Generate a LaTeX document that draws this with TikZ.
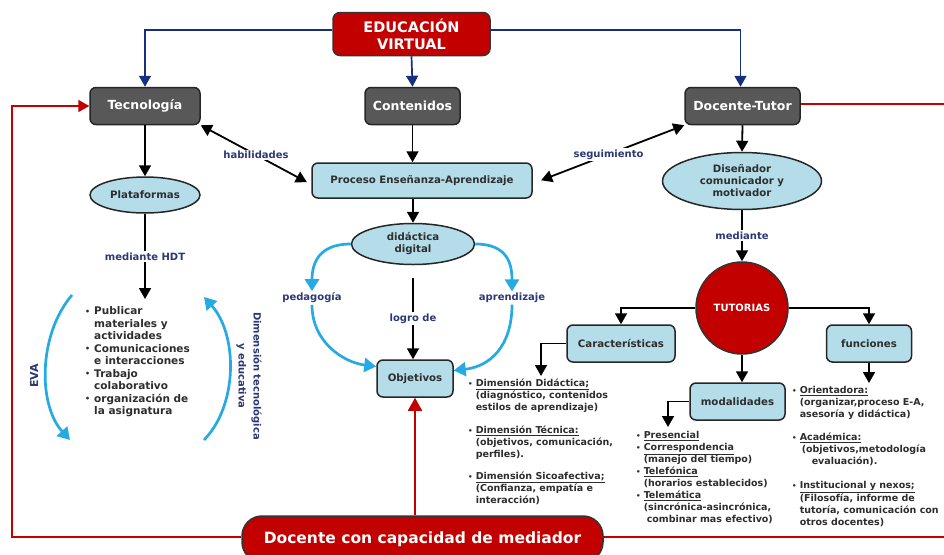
\documentclass[tikz,border=0pt]{standalone}
\usepackage{fontspec}
\setmainfont{DejaVu Sans}
\usetikzlibrary{arrows.meta,shapes.geometric}
\definecolor{navy}{RGB}{44,56,118}
\definecolor{topblue}{RGB}{22,48,125}
\definecolor{sky}{RGB}{38,170,228}
\definecolor{lblue}{RGB}{180,220,233}
\definecolor{dgray}{RGB}{88,88,88}
\definecolor{dred}{RGB}{195,0,0}
\definecolor{ltxt}{RGB}{45,45,45}
\newcommand\bul{\raisebox{0.6pt}{\scalebox{0.75}{\textbullet}}}
\begin{document}
\begin{tikzpicture}[x=1pt,y=-1pt,
  darkbox/.style={draw=black!85, fill=dgray, rounded corners=6pt, line width=1.5pt,
    text=white, font=\fontsize{12.5}{15}\selectfont\bfseries, minimum width=110pt, minimum height=37pt},
  lbox/.style={draw=black!85, fill=lblue, rounded corners=6pt, line width=1.5pt,
    text=black!82, font=\fontsize{10.2}{12}\selectfont\bfseries, minimum height=37pt, align=center},
  lell/.style={ellipse, draw=black!85, fill=lblue, line width=1.5pt, inner sep=1pt,
    text=black!82, font=\fontsize{10.2}{12}\selectfont\bfseries, align=center},
  redbox/.style={draw=black!80, fill=dred, rounded corners=7pt, line width=1.5pt,
    text=white, align=center},
  lbl/.style={fill=white, text=navy, font=\fontsize{10}{12}\selectfont\bfseries, inner sep=1.5pt},
  sidelbl/.style={text=navy, font=\fontsize{10}{15}\selectfont\bfseries, align=center},
  tip/.style={Triangle[length=11pt,width=12pt]},
  con/.style={draw=black, line width=1.8pt, -{Triangle[length=11pt,width=12pt]}},
  dcon/.style={draw=black, line width=1.8pt, {Triangle[length=11pt,width=12pt]}-{Triangle[length=11pt,width=12pt]}},
  bcon/.style={draw=topblue, line width=1.7pt, -{Triangle[length=11pt,width=12pt]}},
  rcon/.style={draw=dred, line width=1.7pt},
  skyarc/.style={draw=sky, line width=2.7pt, -{Triangle[length=12pt,width=14pt]}},
  listtxt/.style={text=ltxt, anchor=north west, inner sep=0pt, font=\fontsize{9.5}{12}\selectfont\bfseries}
]
\useasboundingbox (0,0) rectangle (944,554);
\clip (0,0) rectangle (944,554);
\fill[white] (0,0) rectangle (944,554);

% ---------- nodes ----------
\node[redbox, minimum width=157pt, minimum height=43pt, font=\fontsize{14.5}{17}\selectfont\bfseries] (ev) at (411.5,34) {EDUCACIÓN\\VIRTUAL};
\node[darkbox] (tec) at (145,106) {Tecnología};
\node[darkbox, minimum width=95pt] (con) at (412.5,106) {Contenidos};
\node[darkbox, minimum width=115pt] (doc) at (742.5,106) {Docente-Tutor};
\node[lbox, minimum width=220pt, minimum height=35pt] (pea) at (422,180.5) {Proceso Enseñanza-Aprendizaje};
\node[lell, minimum width=110pt, minimum height=36pt] (plat) at (145,195) {Plataformas};
\node[lell, minimum width=123pt, minimum height=41pt] (dd) at (413,244) {didáctica\\digital};
\node[lbox, minimum width=76pt] (obj) at (415,378.5) {Objetivos};
\node[lell, minimum width=159pt, minimum height=57pt] (dis) at (742,181) {Diseñador\\comunicador y\\motivador};
\node[circle, draw=black!80, fill=dred, line width=1.5pt, minimum size=92pt, text=white,
  font=\fontsize{10}{12}\selectfont\bfseries] (tut) at (742,308) {TUTORIAS};
\node[lbox, minimum width=108pt] (car) at (621,343.5) {Características};
\node[lbox, minimum width=85pt] (fun) at (869,343.5) {funciones};
\node[lbox, minimum width=95pt] (mod) at (737.5,401.5) {modalidades};
\node[redbox, rounded corners=20pt, minimum width=361pt, minimum height=46pt,
  font=\fontsize{15.5}{18}\selectfont\bfseries] (dcm) at (422.5,539) {Docente con capacidad de mediador};

% labels placed as nodes
\node[sidelbl, font=\fontsize{11}{13}\selectfont\bfseries, rotate=90] (eva) at (34,376) {EVA};
\node[sidelbl, rotate=-90] (dim) at (249,376) {Dimensión tecnológica\\y educativa};
\node[lbl] (ped) at (312,298) {pedagogía};
\node[lbl] (apr) at (512,298) {aprendizaje};

% ---------- lists ----------
\node[listtxt, font=\fontsize{10.5}{12.5}\selectfont\bfseries] (lst1) at (85,306) {%
\begin{tabular}{@{}l@{\hspace{4pt}}l@{}}
\bul & Publicar\\
 & materiales y\\
 & actividades\\
\bul & Comunicaciones\\
 & e interacciones\\
\bul & Trabajo\\
 & colaborativo\\
\bul & organización de\\
 & la asignatura
\end{tabular}};

\node[listtxt] (lst2) at (468,378) {%
\begin{tabular}{@{}l@{\hspace{3pt}}l@{}}
\bul & \underline{Dimensión Didáctica;}\\
 & (diagnóstico, contenidos\\
 & estilos de aprendizaje)\\[11pt]
\bul & \underline{Dimensión Técnica:}\\
 & (objetivos, comunicación,\\
 & perfiles).\\[10pt]
\bul & \underline{Dimensión Sicoafectiva;}\\
 & (Confianza, empatía e\\
 & interacción)
\end{tabular}};

\node[listtxt] (lst3) at (636,430) {%
\begin{tabular}{@{}l@{\hspace{3pt}}l@{}}
\bul & \underline{Presencial}\\
\bul & \underline{Correspondencia}\\
 & (manejo del tiempo)\\
\bul & \underline{Telefónica}\\
 & (horarios establecidos)\\
\bul & \underline{Telemática}\\
 & (sincrónica-asincrónica,\\
 & \hspace{3pt}combinar mas efectivo)
\end{tabular}};

\node[listtxt] (lst4) at (792,385) {%
\begin{tabular}{@{}l@{\hspace{3pt}}l@{}}
\bul & \underline{Orientadora:}\\
 & (organizar,proceso E-A,\\
 & asesoría y didáctica)\\[11pt]
\bul & \underline{Académica:}\\
 & \hspace{2pt}(objetivos,metodología\\
 & \hspace{12pt}evaluación).\\[12pt]
\bul & \underline{Institucional y nexos;}\\
 & (Filosofía, informe de\\
 & tutoría, comunicación con\\
 & otros docentes)
\end{tabular}};

% ---------- coordinates for free ends ----------
\coordinate (l1top) at (145,299);
\coordinate (lg1) at (413,278);
\coordinate (carend) at (541,376);
\coordinate (modend) at (668,427);
\coordinate (funend) at (869,383);
\coordinate (lc1) at (12,537);
\coordinate (re1) at (950,104);
\coordinate (re2) at (950,537);
\coordinate (evaA) at (72,295);
\coordinate (evaB) at (70,440);
\coordinate (dimA) at (204,440);
\coordinate (dimB) at (204,297);

% ---------- blue top connectors ----------
\draw[bcon] ([yshift=4pt]ev.west) -| (tec.north);
\draw[bcon] (ev.south) -- (con.north);
\draw[bcon] ([yshift=4pt]ev.east) -| ([xshift=-2pt]doc.north);

% ---------- red connectors ----------
\draw[rcon] ([yshift=2pt]doc.east) -- (re1);
\draw[rcon] ([yshift=2pt]dcm.east) -- (re2);
\draw[rcon, -{Triangle[length=11pt,width=12pt]}] ([yshift=2pt]dcm.west) -- (lc1) |- (tec.west);
\draw[rcon, -{Triangle[length=13pt,width=14pt]}] (obj.south |- dcm.north) -- (obj.south);

% ---------- black connectors ----------
\draw[con] (tec.south) -- (plat.north);
\draw[con] (plat.south) -- node[lbl]{mediante HDT} (l1top);
\draw[con] (con.south) -- (con.south |- pea.north);
\draw[con] (dd.north |- pea.south) -- (dd.north);
\draw[dcon, shorten >=5pt] (tec.south east) -- node[lbl]{habilidades} ([yshift=-4pt]pea.west);
\draw[dcon, shorten >=9pt] (doc.south west) -- node[lbl]{seguimiento} ([yshift=-3pt]pea.east);
\draw[con] (doc.south) -- (dis.north);
\draw[con] (dis.south) -- node[lbl]{mediante} (tut.north);
\draw[con] (tut.west) -| (car.north);
\draw[con] (tut.east) -| (fun.north);
\draw[con] (tut.south) -- (tut.south |- mod.north);
\draw[con] (car.west) -| (carend);
\draw[con] (mod.west) -| (modend);
\draw[con] (fun.south) -- (funend);
\draw[con] (lg1) -- node[lbl]{logro de} (lg1 |- obj.north);

% ---------- sky-blue curves ----------
\draw[skyarc] (dd.west) .. controls +(-32,0) and +(0,-28) .. (ped.north);
\draw[skyarc] (ped.south) .. controls +(0,38) and +(-32,-4) .. ([yshift=12pt]obj.west);
\draw[skyarc] (dd.east) .. controls +(32,0) and +(0,-28) .. (apr.north);
\draw[skyarc] (apr.south) .. controls +(0,42) and +(36,-4) .. ([yshift=8pt]obj.east);
\draw[skyarc] (evaA) .. controls (38,335) and (38,405) .. (evaB);
\draw[skyarc] (dimA) .. controls (238,405) and (238,335) .. (dimB);
\end{tikzpicture}
\end{document}
